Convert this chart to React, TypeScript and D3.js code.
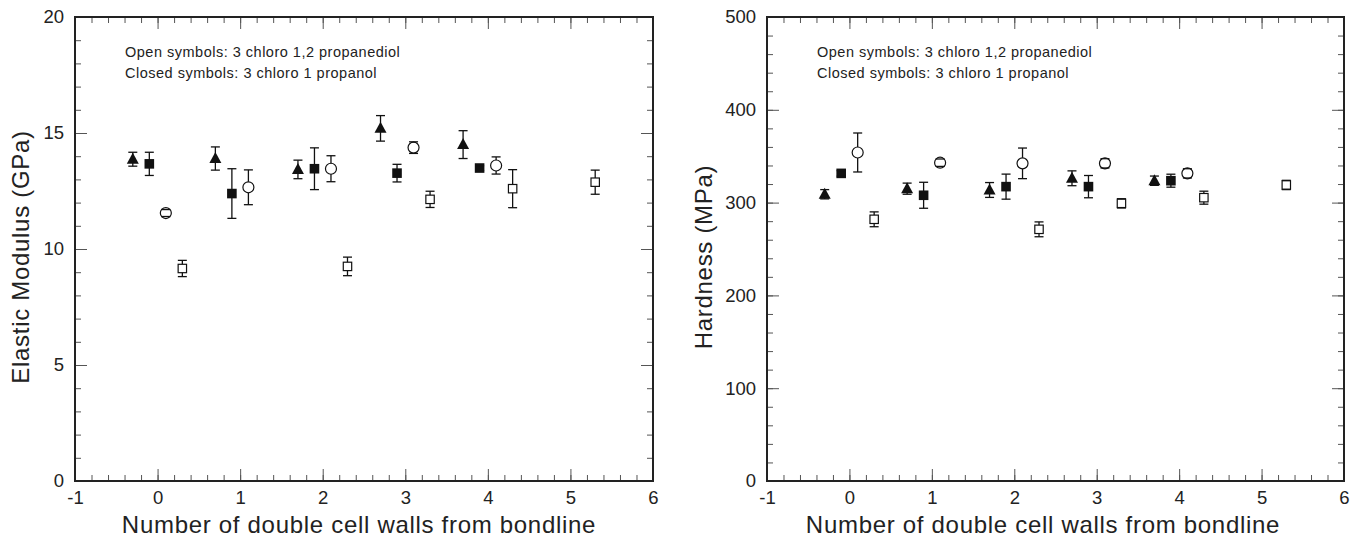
import React from "react";
import * as d3 from "d3";

// x positions, shared by both panels (number of double cell walls, offset per symbol)
const triX = [-0.3, 0.7, 1.7, 2.7, 3.7];
const sqX = [-0.1, 0.9, 1.9, 2.9, 3.9];
const circX = [0.1, 1.1, 2.1, 3.1, 4.1];
const openSqX = [0.3, 2.3, 3.3, 4.3, 5.3];

// elastic modulus (GPa)
const modTriY = [13.87, 13.9, 13.43, 15.2, 14.5];
const modTriErr = [0.3, 0.5, 0.4, 0.55, 0.6];
const modSqY = [13.67, 12.39, 13.46, 13.27, 13.49];
const modSqErr = [0.5, 1.07, 0.9, 0.38, 0.1];
const modCircY = [11.55, 12.66, 13.46, 14.37, 13.6];
const modCircErr = [0.15, 0.75, 0.56, 0.25, 0.37];
const modOpenSqY = [9.16, 9.25, 12.14, 12.6, 12.88];
const modOpenSqErr = [0.35, 0.4, 0.35, 0.82, 0.52];

// hardness (MPa)
const hardTriY = [309, 315, 313.6, 326.2, 323.6];
const hardTriErr = [5, 6, 8, 8, 5];
const hardSqY = [331.5, 307.9, 317.2, 317.2, 323.6];
const hardSqErr = [3, 14, 13.5, 12, 7];
const hardCircY = [354, 343, 342.3, 342.3, 331.5];
const hardCircErr = [21, 4, 16.5, 5, 5];
const hardOpenSqY = [282, 271.2, 299.2, 305.3, 319];
const hardOpenSqErr = [8, 8, 5, 7, 5];

const xTicks = [-1, 0, 1, 2, 3, 4, 5, 6];
const modTicks = [0, 5, 10, 15, 20];
const hardTicks = [0, 100, 200, 300, 400, 500];

const xTitle = "Number of double cell walls from bondline";
const noteOpen = "Open symbols: 3 chloro 1,2 propanediol";
const noteClosed = "Closed symbols: 3 chloro 1 propanol";

const FONT = "'Liberation Sans', Arial, Helvetica, sans-serif";
const INK = "#222";

const zip = (xs, ys, es) => xs.map((x, i) => ({ x, y: ys[i], e: es[i] }));

const panels = [
  {
    left: 75,
    right: 653,
    yDomain: [0, 20],
    yTicks: modTicks,
    yMinor: 1,
    title: "Elastic Modulus (GPa)",
    titleX: 21,
    xTitleX: 359,
    series: [
      { shape: "tri", pts: zip(triX, modTriY, modTriErr) },
      { shape: "sq", pts: zip(sqX, modSqY, modSqErr) },
      { shape: "circ", pts: zip(circX, modCircY, modCircErr) },
      { shape: "osq", pts: zip(openSqX, modOpenSqY, modOpenSqErr) },
    ],
  },
  {
    left: 767,
    right: 1344,
    yDomain: [0, 500],
    yTicks: hardTicks,
    yMinor: 20,
    title: "Hardness (MPa)",
    titleX: 704,
    xTitleX: 1043,
    series: [
      { shape: "tri", pts: zip(triX, hardTriY, hardTriErr) },
      { shape: "sq", pts: zip(sqX, hardSqY, hardSqErr) },
      { shape: "circ", pts: zip(circX, hardCircY, hardCircErr) },
      { shape: "osq", pts: zip(openSqX, hardOpenSqY, hardOpenSqErr) },
    ],
  },
];

const TOP = 17;
const BOTTOM = 481;

function drawPanel(svg, p) {
  const x = d3.scaleLinear().domain([-1, 6]).range([p.left, p.right]);
  const y = d3.scaleLinear().domain(p.yDomain).range([BOTTOM, TOP]);
  const g = svg.append("g");

  const xMinor = d3.range(-1, 6.001, 0.2).map((v) => +v.toFixed(2));
  const yMinor = d3.range(p.yDomain[0], p.yDomain[1] + 1e-6, p.yMinor);

  const tickStyle = (sel) => {
    sel.select(".domain").remove();
    sel.selectAll(".tick line").attr("stroke", "#555").attr("stroke-width", 1);
  };

  // minor ticks on all four sides
  g.append("g").attr("transform", `translate(0,${BOTTOM})`)
    .call(d3.axisBottom(x).tickValues(xMinor).tickSize(-6).tickFormat(() => ""))
    .call(tickStyle);
  g.append("g").attr("transform", `translate(0,${TOP})`)
    .call(d3.axisTop(x).tickValues(xMinor).tickSize(-6).tickFormat(() => ""))
    .call(tickStyle);
  g.append("g").attr("transform", `translate(${p.left},0)`)
    .call(d3.axisLeft(y).tickValues(yMinor).tickSize(-6).tickFormat(() => ""))
    .call(tickStyle);
  g.append("g").attr("transform", `translate(${p.right},0)`)
    .call(d3.axisRight(y).tickValues(yMinor).tickSize(-6).tickFormat(() => ""))
    .call(tickStyle);

  // major ticks + labels
  const labelStyle = (sel) =>
    sel.selectAll(".tick text")
      .attr("fill", INK)
      .style("font-family", FONT)
      .style("font-size", "18.5px");

  g.append("g").attr("transform", `translate(0,${BOTTOM})`)
    .call(d3.axisBottom(x).tickValues(xTicks).tickSize(-12).tickPadding(10).tickFormat((d) => String(d)))
    .call(tickStyle)
    .call(labelStyle);
  g.append("g").attr("transform", `translate(0,${TOP})`)
    .call(d3.axisTop(x).tickValues(xTicks).tickSize(-12).tickFormat(() => ""))
    .call(tickStyle);
  g.append("g").attr("transform", `translate(${p.left},0)`)
    .call(d3.axisLeft(y).tickValues(p.yTicks).tickSize(-12).tickPadding(11).tickFormat((d) => String(d)))
    .call(tickStyle)
    .call(labelStyle);
  g.append("g").attr("transform", `translate(${p.right},0)`)
    .call(d3.axisRight(y).tickValues(p.yTicks).tickSize(-12).tickFormat(() => ""))
    .call(tickStyle);

  // frame
  g.append("rect")
    .attr("x", p.left)
    .attr("y", TOP)
    .attr("width", p.right - p.left)
    .attr("height", BOTTOM - TOP)
    .attr("fill", "none")
    .attr("stroke", INK)
    .attr("stroke-width", 2);

  // titles
  g.append("text")
    .attr("x", p.xTitleX)
    .attr("y", 533)
    .attr("text-anchor", "middle")
    .attr("fill", INK)
    .style("font-family", FONT)
    .style("font-size", "24px")
    .style("letter-spacing", "0.7px")
    .text(xTitle);
  g.append("text")
    .attr("transform", `translate(${p.titleX},257) rotate(-90)`)
    .attr("text-anchor", "middle")
    .attr("dy", "0.35em")
    .attr("fill", INK)
    .style("font-family", FONT)
    .style("font-size", "24px")
    .style("letter-spacing", "0.7px")
    .text(p.title);

  // notes
  [noteOpen, noteClosed].forEach((t, i) =>
    g.append("text")
      .attr("x", p.left + 50)
      .attr("y", 57 + i * 21)
      .attr("fill", INK)
      .style("font-family", FONT)
      .style("font-size", "14.5px")
      .style("letter-spacing", "0.5px")
      .text(t)
  );

  const data = g.append("g");
  const all = p.series.flatMap((s) => s.pts.map((d) => ({ ...d, shape: s.shape })));

  // error stems first, then markers, then caps on top
  data.selectAll(".stem")
    .data(all)
    .join("line")
    .attr("x1", (d) => x(d.x))
    .attr("x2", (d) => x(d.x))
    .attr("y1", (d) => y(d.y - d.e))
    .attr("y2", (d) => y(d.y + d.e))
    .attr("stroke", "#111")
    .attr("stroke-width", 1.3);

  const r = 5.5;
  all.forEach((d) => {
    const cx = x(d.x);
    const cy = y(d.y);
    if (d.shape === "tri") {
      data.append("path")
        .attr("d", `M${cx},${cy - 6.5}L${cx + 6},${cy + 4.5}L${cx - 6},${cy + 4.5}Z`)
        .attr("fill", "#111");
    } else if (d.shape === "sq") {
      data.append("rect")
        .attr("x", cx - 4.8).attr("y", cy - 4.8)
        .attr("width", 9.6).attr("height", 9.6)
        .attr("fill", "#111");
    } else if (d.shape === "circ") {
      data.append("circle")
        .attr("cx", cx).attr("cy", cy).attr("r", r)
        .attr("fill", "#fff").attr("stroke", "#111").attr("stroke-width", 1.2);
    } else {
      data.append("rect")
        .attr("x", cx - 4.2).attr("y", cy - 4.2)
        .attr("width", 8.4).attr("height", 8.4)
        .attr("fill", "#fff").attr("stroke", "#111").attr("stroke-width", 1.2);
    }
  });

  data.selectAll(".cap")
    .data(all.flatMap((d) => [
      { x: d.x, v: d.y - d.e },
      { x: d.x, v: d.y + d.e },
    ]))
    .join("line")
    .attr("x1", (d) => x(d.x) - 4.5)
    .attr("x2", (d) => x(d.x) + 4.5)
    .attr("y1", (d) => y(d.v))
    .attr("y2", (d) => y(d.v))
    .attr("stroke", "#111")
    .attr("stroke-width", 1.3);
}

export default function App() {
  const ref = React.useRef(null);

  React.useEffect(() => {
    const svg = d3.select(ref.current);
    svg.selectAll("*").remove();
    panels.forEach((p) => drawPanel(svg, p));
  }, []);

  return (
    <svg
      ref={ref}
      width={1359}
      height={544}
      style={{ position: "absolute", left: 0, top: 0, background: "#fff" }}
    />
  );
}
